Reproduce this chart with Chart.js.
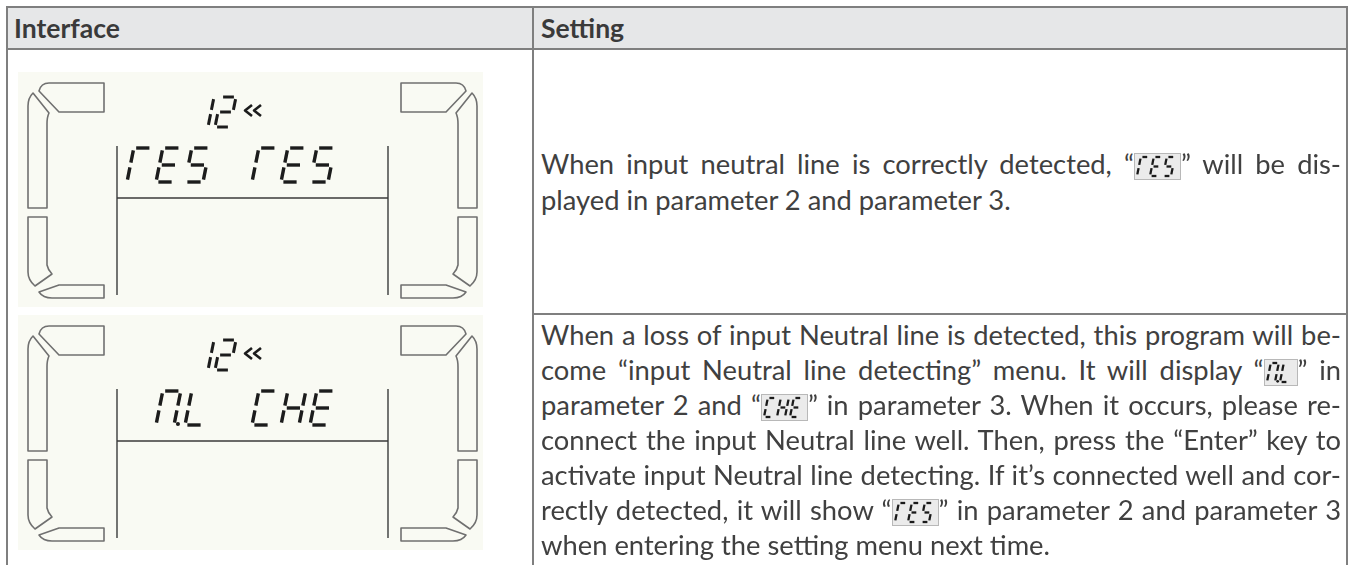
<!DOCTYPE html>
<html><head><meta charset="utf-8">
<script src="https://cdn.jsdelivr.net/npm/chart.js@4.4.1/dist/chart.umd.min.js"></script>
<style>
html,body{margin:0;padding:0;background:#fff;width:1349px;height:565px;overflow:hidden;}
#page{position:relative;width:1349px;height:565px;overflow:hidden;font-family:Lato,"Open Sans",sans-serif;color:#404040;}
.ln{position:absolute;background:#7f7f7f;}
.hdr{position:absolute;font-weight:bold;color:#3a3a3a;white-space:nowrap;}
.tl{position:absolute;white-space:nowrap;text-align:justify;}
.tl.j{text-align-last:justify;}
.tl.l{text-align-last:left;}
canvas.ic{vertical-align:-6px;}
.lcd{position:absolute;}
</style></head>
<body><div id="page"></div>
<script>
// ---------- data ----------
const headers = ['Interface', 'Setting'];
const lcdTopText = ['12«', '12«'];
const lcdParam2 = [['r', 'E', 'S'], ['', 'N.', 'L']];
const lcdParam3 = [['r', 'E', 'S'], ['C', 'H', 'E']];
const row1Lines = [
  'When input neutral line is correctly detected, “{rES}” will be dis-',
  'played in parameter 2 and parameter 3.'
];
const row2Lines = [
  'When a loss of input Neutral line is detected, this program will be-',
  'come “input Neutral line detecting” menu. It will display “{NL}” in',
  'parameter 2 and “{CHE}” in parameter 3. When it occurs, please re-',
  'connect the input Neutral line well. Then, press the “Enter” key to',
  'activate input Neutral line detecting. If it’s connected well and cor-',
  'rectly detected, it will show “{rES}” in parameter 2 and parameter 3',
  'when entering the setting menu next time.'
];
const iconText = {rES: ['r','E','S'], NL: ['N.','L'], CHE: ['C','H','E']};

// ---------- layout ----------
const page = document.getElementById('page');
function box(cls, x, y, w, h){const d=document.createElement('div');d.className=cls;d.style.position='absolute';d.style.left=x+'px';d.style.top=y+'px';d.style.width=w+'px';d.style.height=h+'px';page.appendChild(d);return d;}
const hb = box('', 7, 7, 1340, 42); hb.style.background='#e6e7e8';
box('ln', 6, 6, 1342, 2);      // top
box('ln', 6, 6, 2, 600);       // left
box('ln', 1346, 6, 2, 600);    // right
box('ln', 6, 48, 1342, 2);     // header bottom
box('ln', 532, 6, 2, 600);     // column divider
box('ln', 532, 313, 816, 2);   // row divider (setting column)

const mctx = document.createElement('canvas').getContext('2d');
function fitSize(str, weight, target){mctx.font = weight+' 100px Lato';return 100*target/mctx.measureText(str).width;}
const bodySize = fitSize('played in parameter 2 and parameter 3.', 'normal', 471);
const hdrSize = fitSize('Interface', 'bold', 106);

headers.forEach((h,i)=>{const d=document.createElement('div');d.className='hdr';d.textContent=h;
  d.style.fontSize=hdrSize+'px';d.style.left=(i===0?14:541)+'px';d.style.top='8px';d.style.lineHeight='40px';page.appendChild(d);});

// 7-seg glyph drawing
const SEG = {'1':'bc','2':'abged','r':'aef','E':'adefg','S':'afgcd','N':'abcef','L':'def','C':'adef','H':'bcefg'};
function drawGlyph(ctx, ch, map, x, y, w, h, slant, t, color){
  const dp = ch.endsWith('.') && ch.length>1; const c = dp? ch[0]: ch;
  const segs = SEG[c]||''; const g = t*0.7;
  const P = (px,py)=>map(x+px+(h-py)*slant, y+py);
  const lines = {a:[[g,0],[w-g,0]], b:[[w,g],[w,h/2-g]], c:[[w,h/2+g],[w,h-g]], d:[[g,h],[w-g,h]],
    e:[[0,h/2+g],[0,h-g]], f:[[0,g],[0,h/2-g]], g:[[g,h/2],[w-g,h/2]]};
  ctx.save(); ctx.strokeStyle=color; ctx.fillStyle=color; ctx.lineWidth=t; ctx.lineCap='butt';
  for(const s of segs){const [p0,p1]=lines[s];const A=P(p0[0],p0[1]),B=P(p1[0],p1[1]);
    ctx.beginPath();ctx.moveTo(A[0],A[1]);ctx.lineTo(B[0],B[1]);ctx.stroke();}
  if(dp){const D=P(w+t*1.1,h-t*0.3);ctx.beginPath();ctx.arc(D[0],D[1],t*0.6,0,Math.PI*2);ctx.fill();}
  ctx.restore();
}

const bracketShapes = [
  [['M',31,11],['L',86,11],['L',86,40],['L',41,40],['L',21,19],['Q',23,11,31,11]],
  [['M',10,136],['L',10,34],['Q',10,26,15,21],['L',31,41],['Q',29,45,29,52],['L',29,136],['Z']],
  [['M',10,145],['L',29,145],['L',29,193],['Q',30,198,34,202],['L',17,214],['Q',10,208,10,200],['Z']],
  [['M',86,213],['L',41,213],['L',21,220],['Q',25,226,34,226],['L',86,226],['Z']]
];
const lcdPlugin = {
  id:'lcd',
  afterDraw(chart){
    const ctx = chart.ctx, xs = chart.scales.x, ys = chart.scales.y;
    const idx = chart.options.plugins.lcd.index;
    const map = (u,v)=>[xs.getPixelForValue(u), ys.getPixelForValue(v)];
    ctx.save();
    const [x0,y0]=map(0,0),[x1,y1]=map(465,235);
    ctx.fillStyle='#f9faf3'; ctx.fillRect(x0,y0,x1-x0,y1-y0);
    ctx.strokeStyle='#707070'; ctx.lineWidth=1.6; ctx.lineJoin='round';
    for(const mirror of [false,true]){
      const mx = u => mirror? 469-u : u;
      for(const sh of bracketShapes){
        ctx.beginPath();
        for(const cmd of sh){
          if(cmd[0]==='M'){const p=map(mx(cmd[1]),cmd[2]);ctx.moveTo(p[0],p[1]);}
          else if(cmd[0]==='L'){const p=map(mx(cmd[1]),cmd[2]);ctx.lineTo(p[0],p[1]);}
          else if(cmd[0]==='Q'){const c=map(mx(cmd[1]),cmd[2]),p=map(mx(cmd[3]),cmd[4]);ctx.quadraticCurveTo(c[0],c[1],p[0],p[1]);}
          else ctx.closePath();
        }
        ctx.closePath(); ctx.stroke();
      }
    }
    ctx.strokeStyle='#3a3a3a'; ctx.lineWidth=1.4;
    const seg=(a,b,c,d)=>{const p=map(a,b),q=map(c,d);ctx.beginPath();ctx.moveTo(p[0],p[1]);ctx.lineTo(q[0],q[1]);ctx.stroke();};
    seg(99,74,99,223); seg(370,74,370,223); seg(99,126,370,126);
    const top = lcdTopText[idx];
    const digs = top.replace('«','').split('');
    digs.forEach((c,i)=>drawGlyph(ctx,c,map,175+i*22,25,15,30,0.2,3,'#1c1c1c'));
    if(top.includes('«')){
      ctx.lineWidth=2.6; ctx.strokeStyle='#1c1c1c'; ctx.lineCap='butt';
      for(const ox of [227,236]){const a=map(ox+7,33),b=map(ox,38.5),c=map(ox+7,44);
        ctx.beginPath();ctx.moveTo(a[0],a[1]);ctx.lineTo(b[0],b[1]);ctx.lineTo(c[0],c[1]);ctx.stroke();}
    }
    const slots2=[109,138,167], slots3=[234,263,292];
    lcdParam2[idx].forEach((c,i)=>{if(c) drawGlyph(ctx,c,map,slots2[i],76,18,34,0.2,3.4,'#1c1c1c');});
    lcdParam3[idx].forEach((c,i)=>{if(c) drawGlyph(ctx,c,map,slots3[i],76,18,34,0.2,3.4,'#1c1c1c');});
    ctx.restore();
  }
};
function makeLCD(idx, left, top){
  const cv=document.createElement('canvas'); cv.width=465; cv.height=235; cv.className='lcd';
  cv.style.left=left+'px'; cv.style.top=top+'px'; cv.style.width='465px'; cv.style.height='235px';
  page.appendChild(cv);
  new Chart(cv,{type:'scatter',data:{datasets:[]},
    options:{responsive:false,animation:false,events:[],devicePixelRatio:1,layout:{padding:0},
      plugins:{legend:{display:false},tooltip:{enabled:false},lcd:{index:idx}},
      scales:{x:{type:'linear',min:0,max:465,display:false},y:{type:'linear',min:0,max:235,reverse:true,display:false}}},
    plugins:[lcdPlugin]});
}
makeLCD(0,18,72);
makeLCD(1,18,315);

function icon(key){
  const cv=document.createElement('canvas'); const chars=iconText[key];
  const H=27, W = 8+chars.length*13; cv.width=W; cv.height=H; cv.className='ic';
  const ctx=cv.getContext('2d'); ctx.fillStyle='#ebebeb'; ctx.fillRect(0,0,W,H);
  ctx.strokeStyle='#b8b8b8'; ctx.lineWidth=1; ctx.strokeRect(0.5,0.5,W-1,H-1);
  chars.forEach((c,i)=>drawGlyph(ctx,c,(u,v)=>[u,v],3+i*13,4,8,19,0.2,2.3,'#1a1a1a'));
  return cv;
}
const TEXTW = 800;
function textLine(str, x, yc, justify){
  const d=document.createElement('div'); d.className='tl l';
  d.style.left=x+'px'; d.style.fontSize=bodySize+'px'; d.style.lineHeight='36px';
  d.style.top=(yc-21)+'px';
  const sp=document.createElement('span');
  const parts=str.split(/(\{[A-Za-z]+\})/);
  parts.forEach(p=>{const m=p.match(/^\{([A-Za-z]+)\}$/); if(m) sp.appendChild(icon(m[1])); else sp.appendChild(document.createTextNode(p));});
  d.appendChild(sp); page.appendChild(d);
  const nat = sp.getBoundingClientRect().width;
  if(nat > TEXTW){ sp.style.letterSpacing = (-(nat-TEXTW+2)/str.length)+'px'; }
  d.style.width=TEXTW+'px';
  if(justify) d.className='tl j';
}
row1Lines.forEach((s,i)=>textLine(s,541,167+i*36,i<row1Lines.length-1));
row2Lines.forEach((s,i)=>textLine(s,541,338+i*35,i<row2Lines.length-1));
</script></body></html>
